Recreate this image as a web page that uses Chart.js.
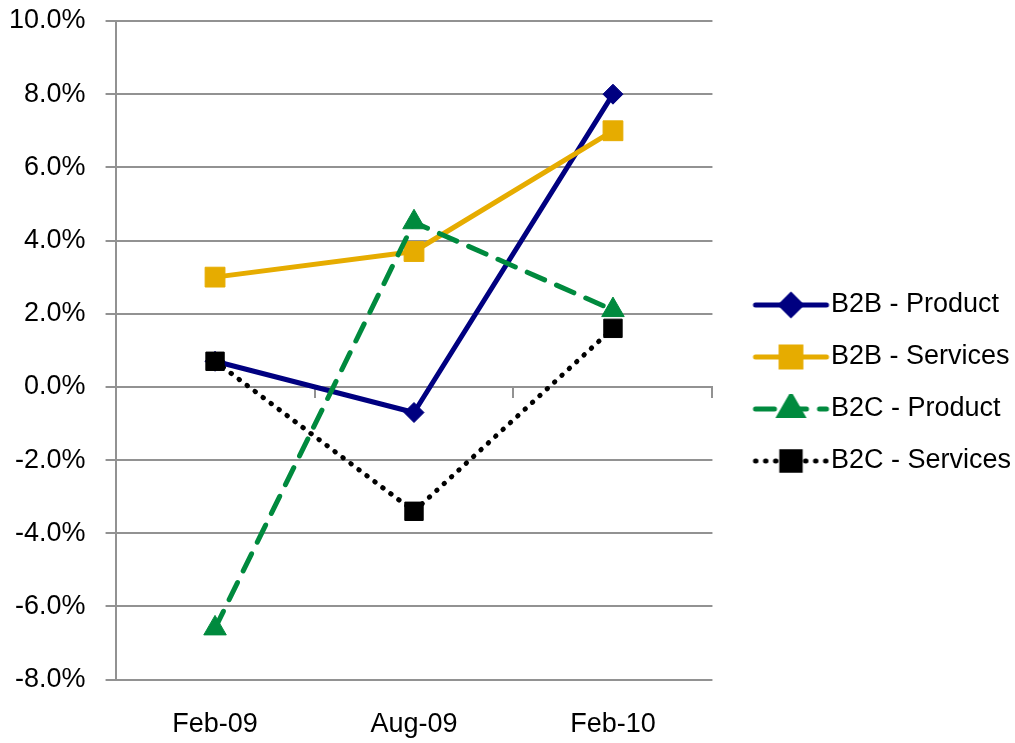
<!DOCTYPE html>
<html>
<head>
<meta charset="utf-8">
<script src="https://cdn.jsdelivr.net/npm/chart.js@4/dist/chart.umd.min.js"></script>
<style>
  html, body { margin: 0; padding: 0; background: #fff; }
  #wrap { width: 1015px; height: 743px; }
</style>
</head>
<body>
<div id="wrap"><canvas id="c" width="1015" height="743"></canvas></div>
<script>
// Period labels along the category axis
const periods = ['Feb-09', 'Aug-09', 'Feb-10'];

// Growth rates (%) per segment
const b2bProduct  = [0.7, -0.7, 8.0];
const b2bServices = [3.0, 3.7, 7.0];
const b2cProduct  = [-6.6, 4.5, 2.1];
const b2cServices = [0.7, -3.4, 1.6];

// Value axis range and step (%)
const yMin = -8, yMax = 10, yStep = 2;

const FONT = "'Liberation Sans', Arial, sans-serif";
const FSIZE = 27;
const GRID = '#929292';

const series = [
  { label: 'B2B - Product',  data: b2bProduct,  color: '#000080', dash: [],        style: 'rectRot',  radius: 10 },
  { label: 'B2B - Services', data: b2bServices, color: '#E6AC00', dash: [],        style: 'rect',     radius: 14 },
  { label: 'B2C - Product',  data: b2cProduct,  color: '#008A3E', dash: [19, 13],  style: 'triangle', radius: 13 },
  { label: 'B2C - Services', data: b2cServices, color: '#000000', dash: [0.5, 9.5], style: 'rect',    radius: 13 }
];

// Legend swatch: a short stroke in the series' line style with its marker in the middle
const SW_W = 106, SW_H = 30, LINE_FROM = 31, LINE_TO = 102;
function swatch(s) {
  const cv = document.createElement('canvas');
  cv.width = SW_W; cv.height = SW_H;
  const g = cv.getContext('2d');
  g.strokeStyle = s.color;
  g.lineWidth = 5;
  g.lineCap = 'round';
  g.setLineDash(s.dash);
  g.beginPath();
  g.moveTo(LINE_FROM, SW_H / 2);
  g.lineTo(LINE_TO, SW_H / 2);
  g.stroke();
  g.setLineDash([]);
  g.fillStyle = s.color;
  Chart.helpers.drawPoint(g, { pointStyle: s.style, radius: s.radius, borderWidth: 1, rotation: 0 },
    (LINE_FROM + LINE_TO) / 2, SW_H / 2);
  return cv;
}

const datasets = series.map((s, i) => ({
  label: s.label,
  data: s.data,
  borderColor: s.color,
  backgroundColor: s.color,
  borderWidth: 5,
  borderDash: s.dash,
  borderCapStyle: 'round',
  borderJoinStyle: 'round',
  pointStyle: s.style,
  pointRadius: s.radius,
  pointHoverRadius: s.radius,
  pointBackgroundColor: s.color,
  pointBorderColor: s.color,
  pointBorderWidth: 1,
  tension: 0,
  order: series.length - i
}));

new Chart(document.getElementById('c'), {
  type: 'line',
  data: { labels: periods, datasets },
  options: {
    responsive: false,
    animation: false,
    devicePixelRatio: 1,
    layout: { padding: { top: -4, right: -6, bottom: -27, left: -11 } },
    plugins: {
      tooltip: { enabled: false },
      legend: {
        position: 'right',
        align: 'center',
        maxWidth: 330,
        labels: {
          usePointStyle: true,
          pointStyleWidth: 80,
          padding: 25,
          color: '#000',
          font: { family: FONT, size: FSIZE },
          generateLabels: (chart) => chart.data.datasets.map((ds, i) => ({
            text: ds.label,
            datasetIndex: i,
            pointStyle: swatch(series[i]),
            fontColor: '#000',
            hidden: !chart.isDatasetVisible(i),
            lineWidth: 0,
            strokeStyle: 'transparent',
            fillStyle: ds.borderColor
          }))
        }
      }
    },
    scales: {
      x: {
        type: 'category',
        position: 'bottom',
        offset: true,
        grid: { display: false, drawTicks: false },
        border: { display: false },
        ticks: { color: '#000', padding: 29, font: { family: FONT, size: FSIZE }, maxRotation: 0 }
      },
      // category axis crossing at zero, with boundary tick marks
      xZero: {
        type: 'category',
        axis: 'x',
        position: { y: 0 },
        offset: true,
        grid: { offset: true, drawOnChartArea: false, drawTicks: true, tickLength: 10, color: GRID, lineWidth: 2 },
        border: { display: true, color: GRID, width: 2 },
        ticks: { display: false }
      },
      y: {
        min: yMin,
        max: yMax,
        grid: { color: GRID, lineWidth: 2, drawTicks: true, tickLength: 10, tickColor: GRID },
        border: { display: true, color: GRID, width: 2 },
        ticks: {
          stepSize: yStep,
          color: '#000',
          padding: 20,
          font: { family: FONT, size: FSIZE, lineHeight: 0.074 },
          callback: (v) => v.toFixed(1) + '%'
        }
      }
    }
  }
});
</script>
</body>
</html>
